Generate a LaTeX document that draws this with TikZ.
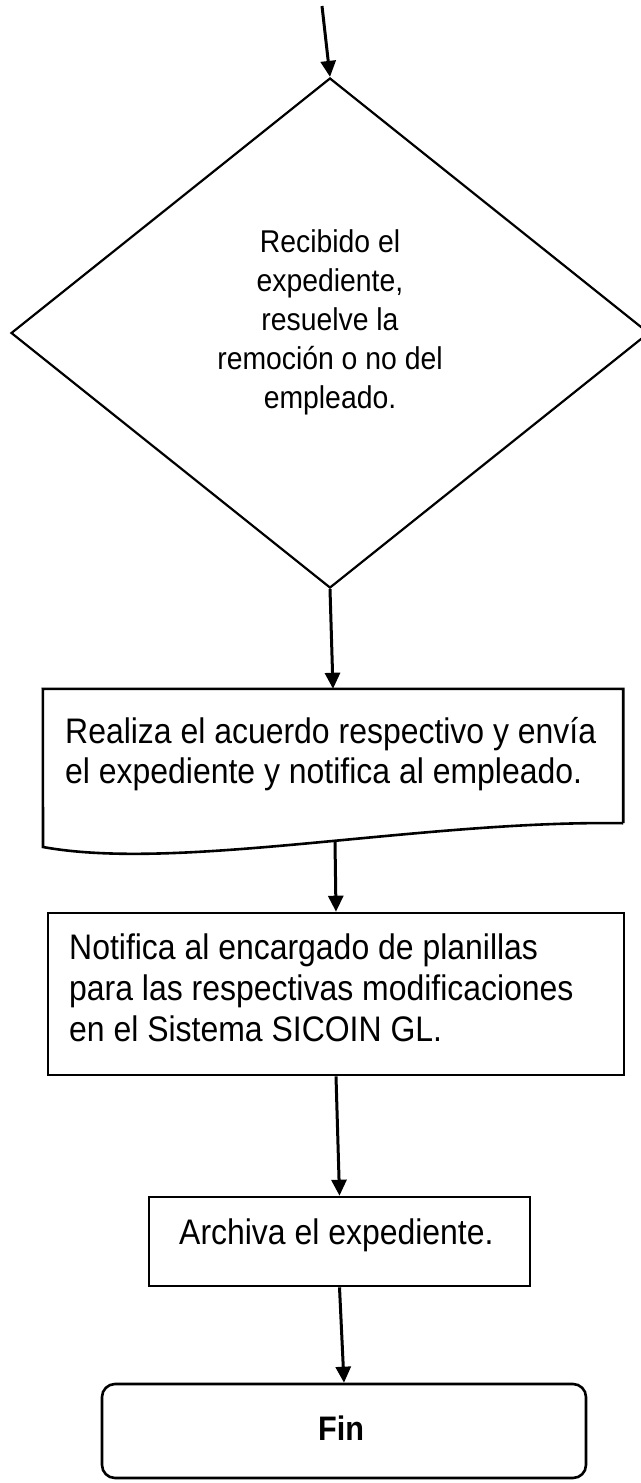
\documentclass[tikz,border=0pt]{standalone}
\usepackage{fontspec}
\setmainfont{Liberation Sans}
\newfontfamily\narrowfont[FakeStretch=0.9]{Liberation Sans}
\usetikzlibrary{arrows.meta,shapes.geometric}
\tikzset{
  arr/.style={line width=3pt,-{Triangle[length=16pt,width=15pt]}},
  boxline/.style={draw,line width=2.6pt,inner sep=0pt},
  txt/.style={anchor=base west,inner sep=0pt,font=\narrowfont\fontsize{35.5}{40}\selectfont},
  dtxt/.style={anchor=base,inner sep=0pt,font=\narrowfont\fontsize{31.5}{38}\selectfont},
}
\begin{document}
\begin{tikzpicture}[x=1pt,y=-1pt]
\useasboundingbox (0,0) rectangle (640,1483);
% diamond
\node[diamond,draw,line width=2.2pt,minimum width=638pt,minimum height=510pt,inner sep=0pt] (dec) at (330,333) {};
\node[dtxt] (d1) at (330,252) {Recibido el};
\node[dtxt] (d2) at (330,291) {expediente,};
\node[dtxt] (d3) at (330,330) {resuelve la};
\node[dtxt] (d4) at (330,369) {remoción o no del};
\node[dtxt] (d5) at (330,408) {empleado.};
\coordinate (start) at (322,6);
\draw[arr] (start) -- (dec.north);
% document shape
\node[minimum width=580pt,minimum height=134pt,inner sep=0pt] (doc) at (333,756) {};
\draw[line width=2.6pt,line join=miter] (doc.south east) -- (doc.north east) -- (doc.north west) -- (43,847)
  .. controls (180,872) and (420,820) .. (doc.south east);
\node[txt] (t1) at (65,743) {Realiza el acuerdo respectivo y envía};
\node[txt] (t2) at (65,783) {el expediente y notifica al empleado.};
\coordinate (docb) at (335,842);
\draw[arr] (dec.south) -- (doc.north);
% rect 2
\node[boxline,minimum width=576pt,minimum height=162pt] (r2) at (336,994) {};
\node[txt] (t3) at (69,959) {Notifica al encargado de planillas};
\node[txt] (t4) at (69,1000) {para las respectivas modificaciones};
\node[txt] (t5) at (69,1041) {en el Sistema SICOIN GL.};
\draw[arr] (docb) -- (r2.north);
% rect 3
\node[boxline,minimum width=381pt,minimum height=89pt] (r3) at (339.5,1241.5) {};
\node[txt] (t6) at (179,1244) {Archiva el expediente.};
\draw[arr] (r2.south) -- (r3.north);
% fin
\node[boxline,rounded corners=13pt,minimum width=484pt,minimum height=94pt] (fin) at (344,1431) {};
\node[anchor=base,inner sep=0pt,font=\narrowfont\fontsize{34}{40}\selectfont\bfseries] (t7) at (341,1440) {Fin};
\draw[arr] (r3.south) -- (fin.north);
\end{tikzpicture}
\end{document}
